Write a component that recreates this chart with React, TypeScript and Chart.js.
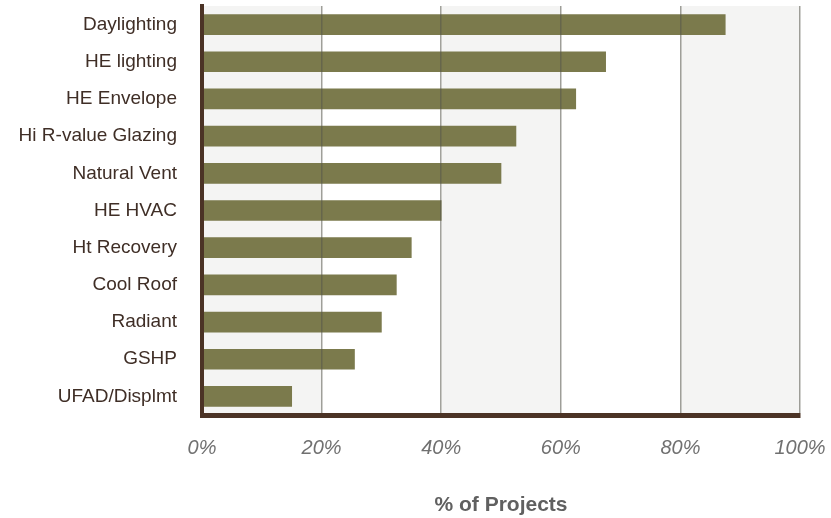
import React, { useEffect, useRef } from "react";
import { Chart, registerables } from "chart.js";

Chart.register(...registerables);

const categories = [
  "Daylighting",
  "HE lighting",
  "HE Envelope",
  "Hi R-value Glazing",
  "Natural Vent",
  "HE HVAC",
  "Ht Recovery",
  "Cool Roof",
  "Radiant",
  "GSHP",
  "UFAD/Displmt",
];
const projectShare = [87.5, 67.5, 62.5, 52.5, 50, 40, 35, 32.5, 30, 25.5, 15];
const xTickValues = [0, 20, 40, 60, 80, 100];
const xTickLabels = ["0%", "20%", "40%", "60%", "80%", "100%"];
const axisTitle = "% of Projects";

const bandPlugin = {
  id: "bands",
  beforeDraw(chart: any) {
    const { ctx, chartArea, scales } = chart;
    const x = scales.x;
    ctx.save();
    ctx.fillStyle = "#f4f4f3";
    for (let i = 0; i < xTickValues.length - 1; i += 2) {
      const a = x.getPixelForValue(xTickValues[i]);
      const b = x.getPixelForValue(xTickValues[i + 1]);
      ctx.fillRect(a, chartArea.top, b - a, chartArea.bottom - chartArea.top);
    }
    ctx.restore();
  },
};

function zeroPadding(scale: any) {
  scale.paddingTop = 0;
  scale.paddingBottom = 0;
  scale.paddingLeft = 0;
  scale.paddingRight = 0;
}

export default function App() {
  const ref = useRef<HTMLCanvasElement>(null);
  useEffect(() => {
    if (!ref.current) return;
    const chart = new Chart(ref.current, {
      type: "bar",
      data: {
        labels: categories,
        datasets: [
          {
            data: projectShare,
            backgroundColor: "#7b7a4c",
            borderWidth: 0,
            barThickness: 20,
          },
        ],
      },
      plugins: [bandPlugin],
      options: {
        indexAxis: "y",
        responsive: false,
        animation: false,
        layout: { padding: { top: 6, right: 31, left: 0, bottom: 0 } },
        plugins: { legend: { display: false }, tooltip: { enabled: false } },
        scales: {
          x: {
            min: 0,
            max: 100,
            afterBuildTicks(scale: any) {
              scale.ticks = xTickValues.map((v) => ({ value: v }));
            },
            afterFit(scale: any) {
              scale.height = 103;
              zeroPadding(scale);
            },
            ticks: {
              padding: 21,
              color: "#707070",
              font: { family: "'Liberation Sans', Arial, sans-serif", size: 20, style: "italic" },
              callback: (v: any) => xTickLabels[xTickValues.indexOf(Number(v))] ?? "",
              maxRotation: 0,
            },
            grid: {
              color: "rgba(85,85,75,0.55)",
              lineWidth: 1.5,
              drawTicks: false,
              z: 1,
            },
            border: { color: "#4b3325", width: 5, z: 2 },
            title: {
              display: true,
              text: axisTitle,
              color: "#606060",
              font: { family: "'Liberation Sans', Arial, sans-serif", size: 21, weight: "bold" },
              padding: { top: 0, bottom: 0 },
            },
          },
          y: {
            afterFit(scale: any) {
              scale.width = 202;
              zeroPadding(scale);
            },
            ticks: {
              padding: 25,
              color: "#3f2e26",
              font: { family: "'Liberation Sans', Arial, sans-serif", size: 19 },
            },
            grid: { display: false, drawTicks: false },
            border: { color: "#4b3325", width: 4, z: 2 },
          },
        },
      },
    } as any);
    return () => chart.destroy();
  }, []);
  return (
    <div style={{ position: "absolute", left: 0, top: 0, width: 831, height: 518, background: "#fff" }}>
      <canvas ref={ref} width={831} height={518} style={{ display: "block" }} />
    </div>
  );
}
